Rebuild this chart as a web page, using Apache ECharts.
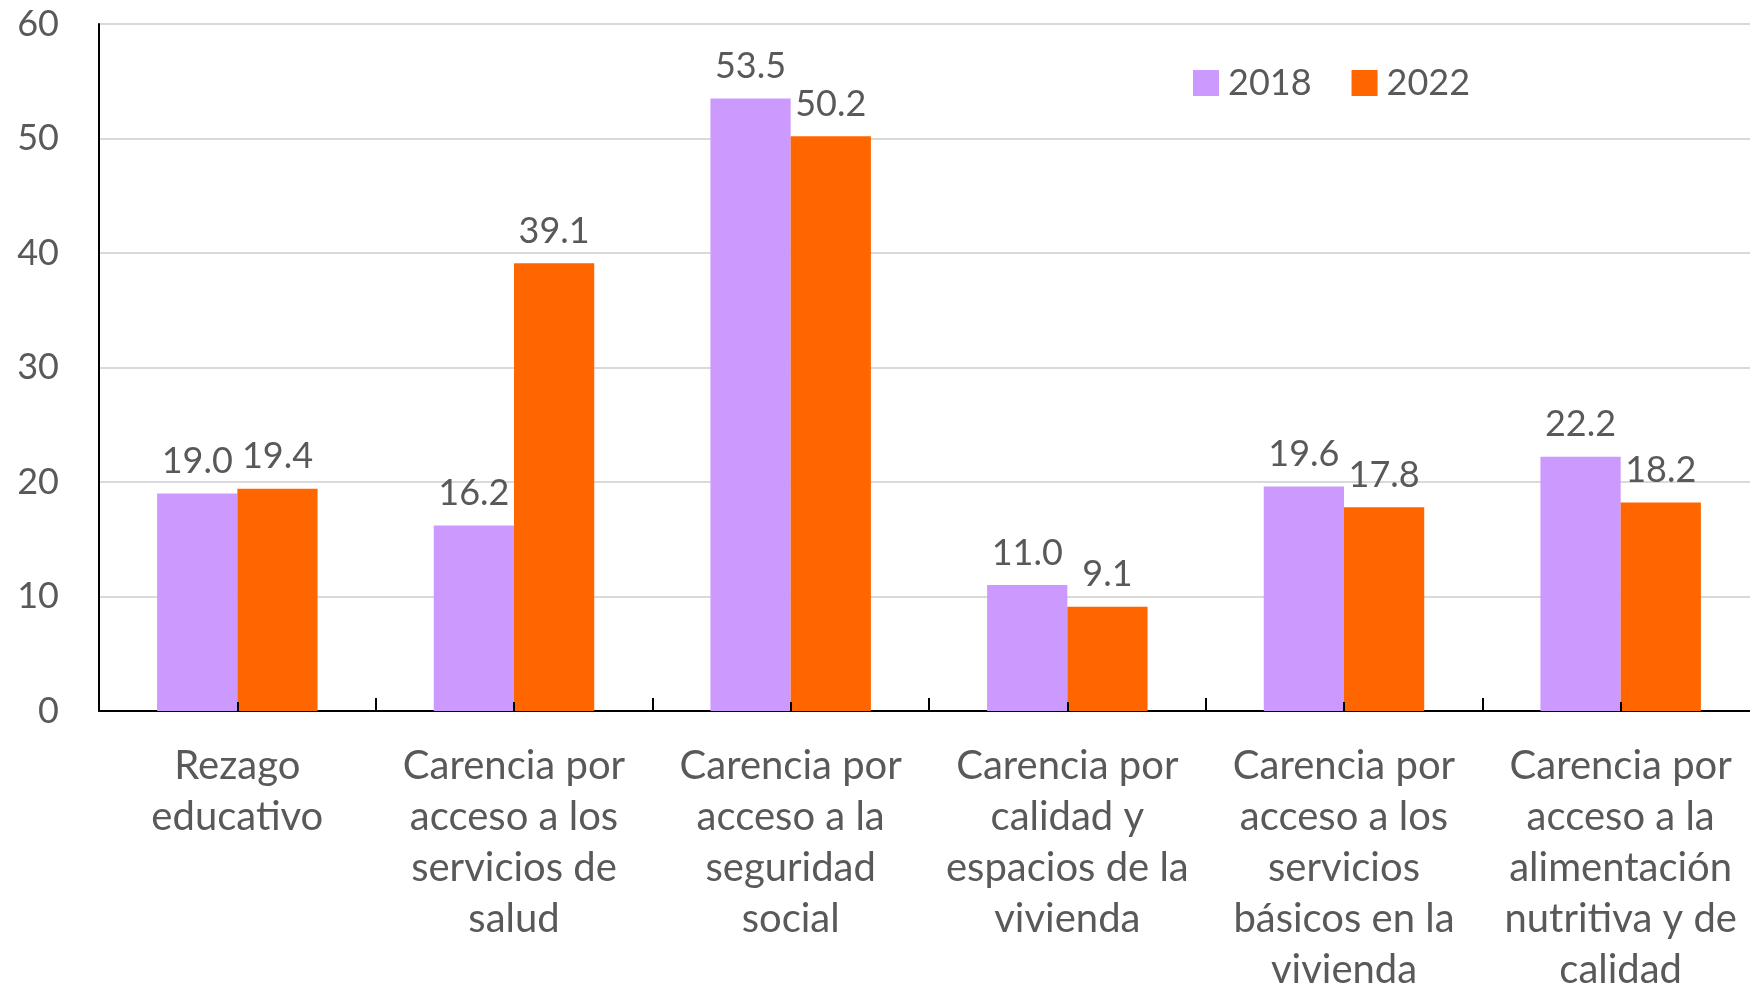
<!DOCTYPE html>
<html>
<head>
<meta charset="utf-8">
<title>Carencias sociales 2018 - 2022</title>
<script src="https://cdn.jsdelivr.net/npm/echarts@6/dist/echarts.min.js"></script>
<style>
  html, body { margin: 0; padding: 0; background: #fff; overflow: hidden; }
  /* el area de trazado se corta un poco por la derecha, como en la figura */
  #main { width: 1759px; height: 996px; }
</style>
</head>
<body>
<div id="main"></div>
<script>
// categorias (con saltos de linea como en la figura)
const categories = [
  'Rezago\neducativo',
  'Carencia por\nacceso a los\nservicios de\nsalud',
  'Carencia por\nacceso a la\nseguridad\nsocial',
  'Carencia por\ncalidad y\nespacios de la\nvivienda',
  'Carencia por\nacceso a los\nservicios\nbásicos en la\nvivienda',
  'Carencia por\nacceso a la\nalimentación\nnutritiva y de\ncalidad'
];
const seriesNames = ['2018', '2022'];
const values2018 = [19.0, 16.2, 53.5, 11.0, 19.6, 22.2];
const values2022 = [19.4, 39.1, 50.2, 9.1, 17.8, 18.2];
const yTicks = [0, 10, 20, 30, 40, 50, 60];

const textColor = '#595959';
const fontFamily = 'Lato, "Open Sans", sans-serif';

const chart = echarts.init(document.getElementById('main'));

function barSeries(name, data, color) {
  return {
    name: name,
    type: 'bar',
    data: data,
    barGap: '0%',
    barCategoryGap: '42%',
    itemStyle: { color: color },
    label: {
      show: true,
      position: 'top',
      distance: 14,
      color: textColor,
      fontFamily: fontFamily,
      fontSize: 36,
      formatter: p => p.value.toFixed(1)
    }
  };
}

const option = {
  backgroundColor: '#ffffff',
  animation: false,
  textStyle: { fontFamily: fontFamily },
  grid: { left: 99, right: 0, top: 24, bottom: 285, containLabel: false },
  legend: {
    data: seriesNames,
    left: 1188,
    top: 60,
    itemWidth: 26,
    itemHeight: 26,
    itemGap: 40,
    icon: 'rect',
    textStyle: { color: textColor, fontSize: 36, fontFamily: fontFamily, padding: [0, 0, 0, 4] }
  },
  xAxis: [
    {
      type: 'category',
      data: categories,
      axisLine: { lineStyle: { color: '#000', width: 2 } },
      axisTick: { show: true, inside: true, length: 13, lineStyle: { color: '#000', width: 2 } },
      axisLabel: {
        interval: 0,
        margin: 30,
        color: textColor,
        fontSize: 40,
        lineHeight: 51,
        fontFamily: fontFamily,
        align: 'center'
      }
    },
    {
      // marcas cortas al centro de cada categoria
      type: 'category',
      data: categories,
      position: 'bottom',
      z: 5,
      axisLine: { show: false },
      axisLabel: { show: false },
      axisTick: { show: true, inside: true, alignWithLabel: true, length: 9, lineStyle: { color: '#000', width: 2 } }
    }
  ],
  yAxis: {
    type: 'value',
    min: yTicks[0],
    max: yTicks[yTicks.length - 1],
    interval: 10,
    axisLine: { show: true, lineStyle: { color: '#000', width: 2 } },
    axisTick: { show: false },
    axisLabel: { margin: 40, color: textColor, fontSize: 36, fontFamily: fontFamily },
    splitLine: { lineStyle: { color: '#d9d9d9', width: 2 } }
  },
  series: [
    barSeries(seriesNames[0], values2018, '#cc99ff'),
    barSeries(seriesNames[1], values2022, '#ff6600')
  ]
};

chart.setOption(option);
</script>
</body>
</html>
